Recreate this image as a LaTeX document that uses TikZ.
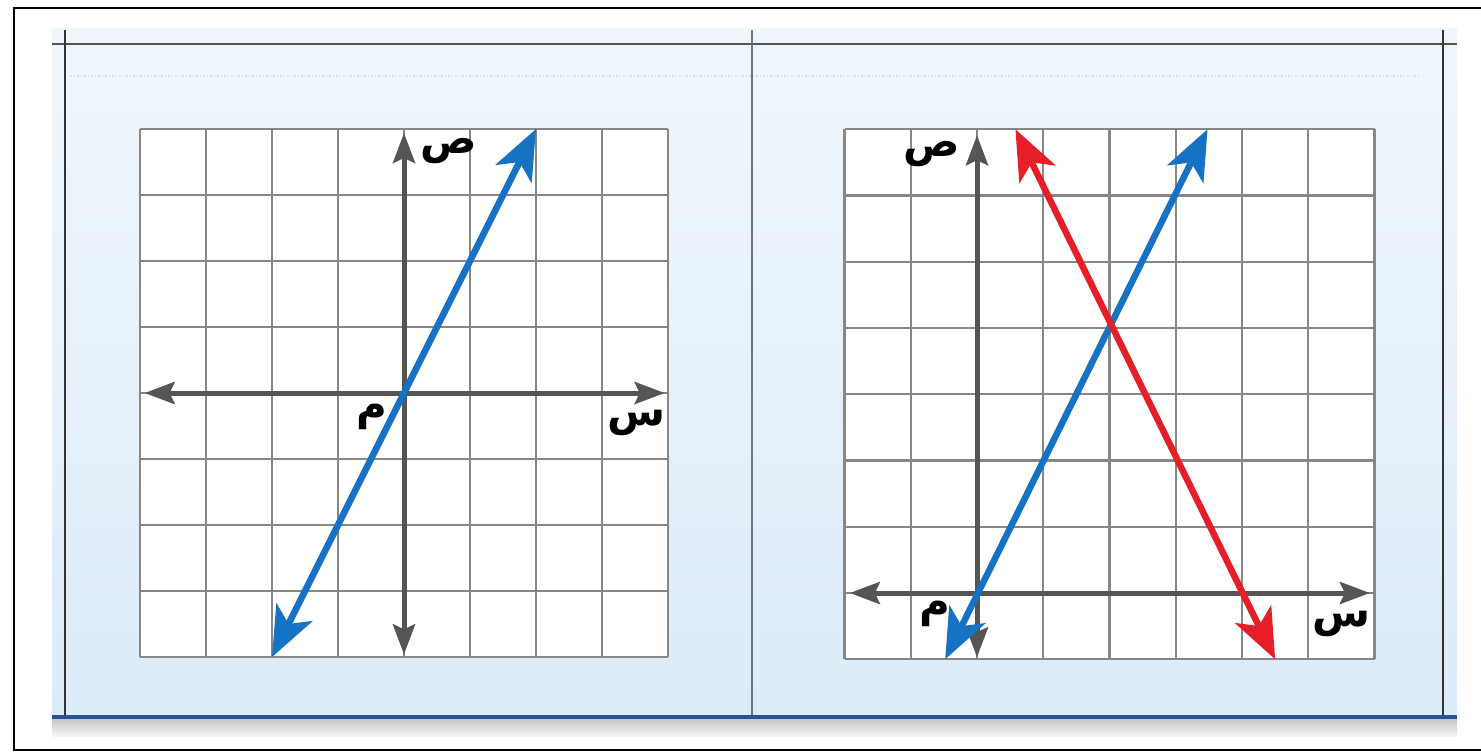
\documentclass[tikz,border=0pt]{standalone}
\usepackage{fontspec}
\newfontfamily\arabicfont[Script=Arabic]{DejaVu Sans}
\TeXXeTstate=1
\usetikzlibrary{arrows.meta}
\definecolor{gridgray}{HTML}{878787}
\definecolor{axisgray}{HTML}{555555}
\definecolor{lineblue}{HTML}{1672C2}
\definecolor{linered}{HTML}{E61E28}
\definecolor{panelbot}{HTML}{DCEBF8}
\definecolor{paneltop}{HTML}{F0F7FC}
\definecolor{barblue}{HTML}{2B4F99}
\definecolor{framegray}{HTML}{333333}
\definecolor{dividergray}{HTML}{6B7780}
\definecolor{dotgray}{HTML}{D2DEE8}
\begin{document}
\begin{tikzpicture}[x=1pt,y=-1pt,
  gridline/.style={draw=gridgray, line width=2.2pt},
  axisline/.style={draw=axisgray, line width=5pt,
    {Stealth[length=30pt,width=22pt,inset=5pt]}-{Stealth[length=30pt,width=22pt,inset=5pt]}},
  graphline/.style={line width=6.5pt,
    {Stealth[length=50pt,width=40pt,inset=13pt]}-{Stealth[length=50pt,width=40pt,inset=13pt]}},
  varlabel/.style={font=\arabicfont\bfseries\fontsize{42}{48}\selectfont, inner sep=0pt, text=black},
  panelrule/.style={draw=framegray, line width=2.5pt}]
\useasboundingbox (0,0) rectangle (1481,753);
% panel background
\shade[top color=paneltop, bottom color=panelbot] (52,28) rectangle (1457,718);
\shade[top color=black!22, bottom color=black!4] (52,719) rectangle (1457,736);
\draw[dotgray, line width=1.5pt, dotted] (70,76) -- (1420,76);
\draw[draw=axisgray, line width=2pt] (52,44) -- (1457,44);
\draw[panelrule] (65,30) -- (65,718);
\draw[panelrule] (1443,30) -- (1443,718);
\draw[draw=dividergray, line width=2pt] (752,30) -- (752,718);
\draw[draw=barblue, line width=4pt] (52,717) -- (1457,717);
% outer frame
\draw[line width=2.5pt] (1481,8) -- (14,8) -- (14,750) -- (1481,750);

% ---------- left graph ----------
\begin{scope}[shift={(404pt,-393pt)}, x=66pt, y=66pt]
  \fill[white] (-4,-4) rectangle (4,4);
  \foreach \i in {-4,...,4} {
    \draw[gridline] (\i,-4) -- (\i,4);
    \draw[gridline] (-4,\i) -- (4,\i);
  }
  \coordinate (Lxl) at (-3.93,0);
  \coordinate (Lxr) at (3.95,0);
  \coordinate (Lyb) at (0,-3.96);
  \coordinate (Lyt) at (0,3.94);
  \draw[axisline] (Lxl) -- (Lxr);
  \draw[axisline] (Lyb) -- (Lyt);
  \coordinate (Lb1) at (-2,-4);
  \coordinate (Lb2) at (2,4);
  \draw[graphline, draw=lineblue, fill=lineblue] (Lb1) -- (Lb2);
  \node[varlabel] (Ly) at (0.68,3.66) {\beginR ص\endR};
  \node[varlabel] (Lo) at (-0.48,-0.36) {\beginR م\endR};
  \node[varlabel] (Lx) at (3.52,-0.46) {\beginR س\endR};
\end{scope}

% ---------- right graph ----------
\begin{scope}[shift={(977pt,-593pt)}, x=66.25pt, y=66.25pt]
  \fill[white] (-2,-1) rectangle (6,7);
  \foreach \i in {-2,...,6} {
    \draw[gridline] (\i,-1) -- (\i,7);
  }
  \foreach \j in {-1,...,7} {
    \draw[gridline] (-2,\j) -- (6,\j);
  }
  \coordinate (Rxl) at (-1.92,0);
  \coordinate (Rxr) at (5.93,0);
  \coordinate (Ryb) at (0,-0.97);
  \coordinate (Ryt) at (0,6.91);
  \draw[axisline] (Rxl) -- (Rxr);
  \draw[axisline] (Ryb) -- (Ryt);
  \coordinate (Rb1) at (-0.48,-1);
  \coordinate (Rb2) at (3.48,7);
  \coordinate (Rr1) at (0.58,7);
  \coordinate (Rr2) at (4.5,-1);
  \draw[graphline, draw=lineblue, fill=lineblue] (Rb1) -- (Rb2);
  \draw[graphline, draw=linered, fill=linered] (Rr1) -- (Rr2);
  \node[varlabel] (Ry) at (-0.68,6.62) {\beginR ص\endR};
  \node[varlabel] (Ro) at (-0.63,-0.32) {\beginR م\endR};
  \node[varlabel] (Rx) at (5.5,-0.46) {\beginR س\endR};
\end{scope}
\end{tikzpicture}
\end{document}
